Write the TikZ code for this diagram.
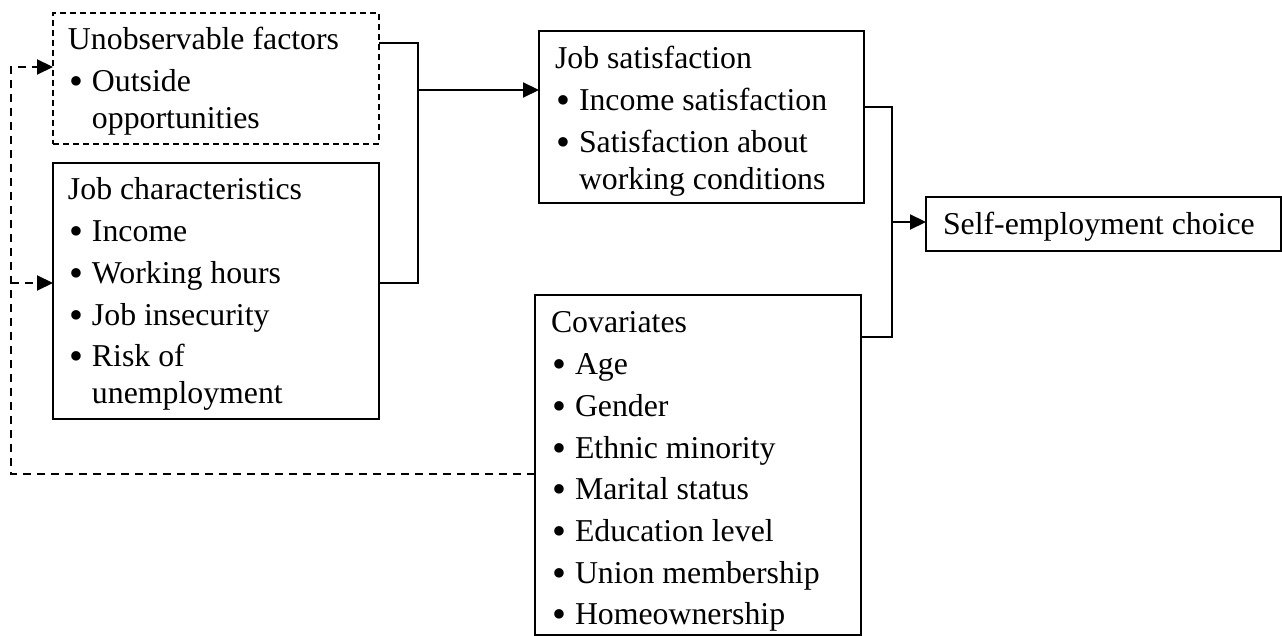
\documentclass[tikz,border=0pt]{standalone}
\usepackage{fontspec}
\usepackage{graphicx}
\setmainfont{Liberation Serif}
\usetikzlibrary{arrows.meta}
\newcommand{\bitem}[1]{\par\hangindent=12pt\hangafter=1\noindent\makebox[12pt][l]{\hspace{0.8pt}\raisebox{-1.5pt}{\scalebox{1.25}{\textbullet}}}#1}
\newcommand{\boxtext}[1]{\parbox[t]{220pt}{\fontsize{15.9}{18.5}\selectfont\setlength{\parskip}{2.35pt}\noindent #1}}
\tikzset{
  box/.style={draw, line width=1.1pt, inner sep=0pt, outer sep=0pt, anchor=north west},
  dbox/.style={box, line width=0.9pt, dash pattern=on 3pt off 2pt},
  txt/.style={inner sep=0pt, outer sep=0pt, anchor=base west},
  conn/.style={line width=1.1pt},
  arr/.style={line width=1.1pt, -{Triangle[length=8pt,width=7.5pt]}},
  fbline/.style={line width=1.1pt, dash pattern=on 4pt off 3pt},
  fbarr/.style={fbline, -{Triangle[length=8pt,width=7.5pt]}}
}
\begin{document}
\begin{tikzpicture}[x=0.5pt,y=-0.5pt]
\useasboundingbox (0,0) rectangle (1282,636);
% boxes
\node[dbox, minimum width=163pt, minimum height=65.5pt] (unobs) at (53,13) {};
\node[box, minimum width=163pt, minimum height=128pt] (jobchar) at (53,163) {};
\node[box, minimum width=162.5pt, minimum height=86pt] (js) at (539,31) {};
\node[box, minimum width=163pt, minimum height=170pt] (cov) at (535,295) {};
\node[box, minimum width=177.5pt, minimum height=27pt] (self) at (926,197) {};
% texts
\node[txt] (unobsT) at (68,50) {\boxtext{Unobservable factors\bitem{Outside\\opportunities}}};
\node[txt] (jobcharT) at (68,200) {\boxtext{Job characteristics\bitem{Income}\bitem{Working hours}\bitem{Job insecurity}\bitem{Risk of\\unemployment}}};
\node[txt] (jsT) at (555,69) {\boxtext{Job satisfaction\bitem{Income satisfaction}\bitem{Satisfaction about\\working conditions}}};
\node[txt] (covT) at (551,333) {\boxtext{Covariates\bitem{Age}\bitem{Gender}\bitem{Ethnic minority}\bitem{Marital status}\bitem{Education level}\bitem{Union membership}\bitem{Homeownership}}};
\node[txt] (selfT) at (943,235) {\boxtext{Self-employment choice}};
% junctions
\coordinate (jL) at (418,90);
\coordinate (jR) at (892,222);
\coordinate (fbtop) at (11,67);
% left bracket
\draw[conn] (unobs.east |- 0,43) -| (jL |- 0,283) -- (jobchar.east |- 0,283);
\draw[arr] (jL) -- (js.west |- jL);
% right bracket
\draw[conn] (js.east |- 0,107) -| (jR |- 0,337) -- (cov.east |- 0,337);
\draw[arr] (jR) -- (self.west |- jR);
% feedback
\draw[fbarr] (cov.west |- 0,474) -| (fbtop) -- (unobs.west |- fbtop);
\draw[fbarr] (fbtop |- 0,283) -- (jobchar.west |- 0,283);
\end{tikzpicture}
\end{document}
